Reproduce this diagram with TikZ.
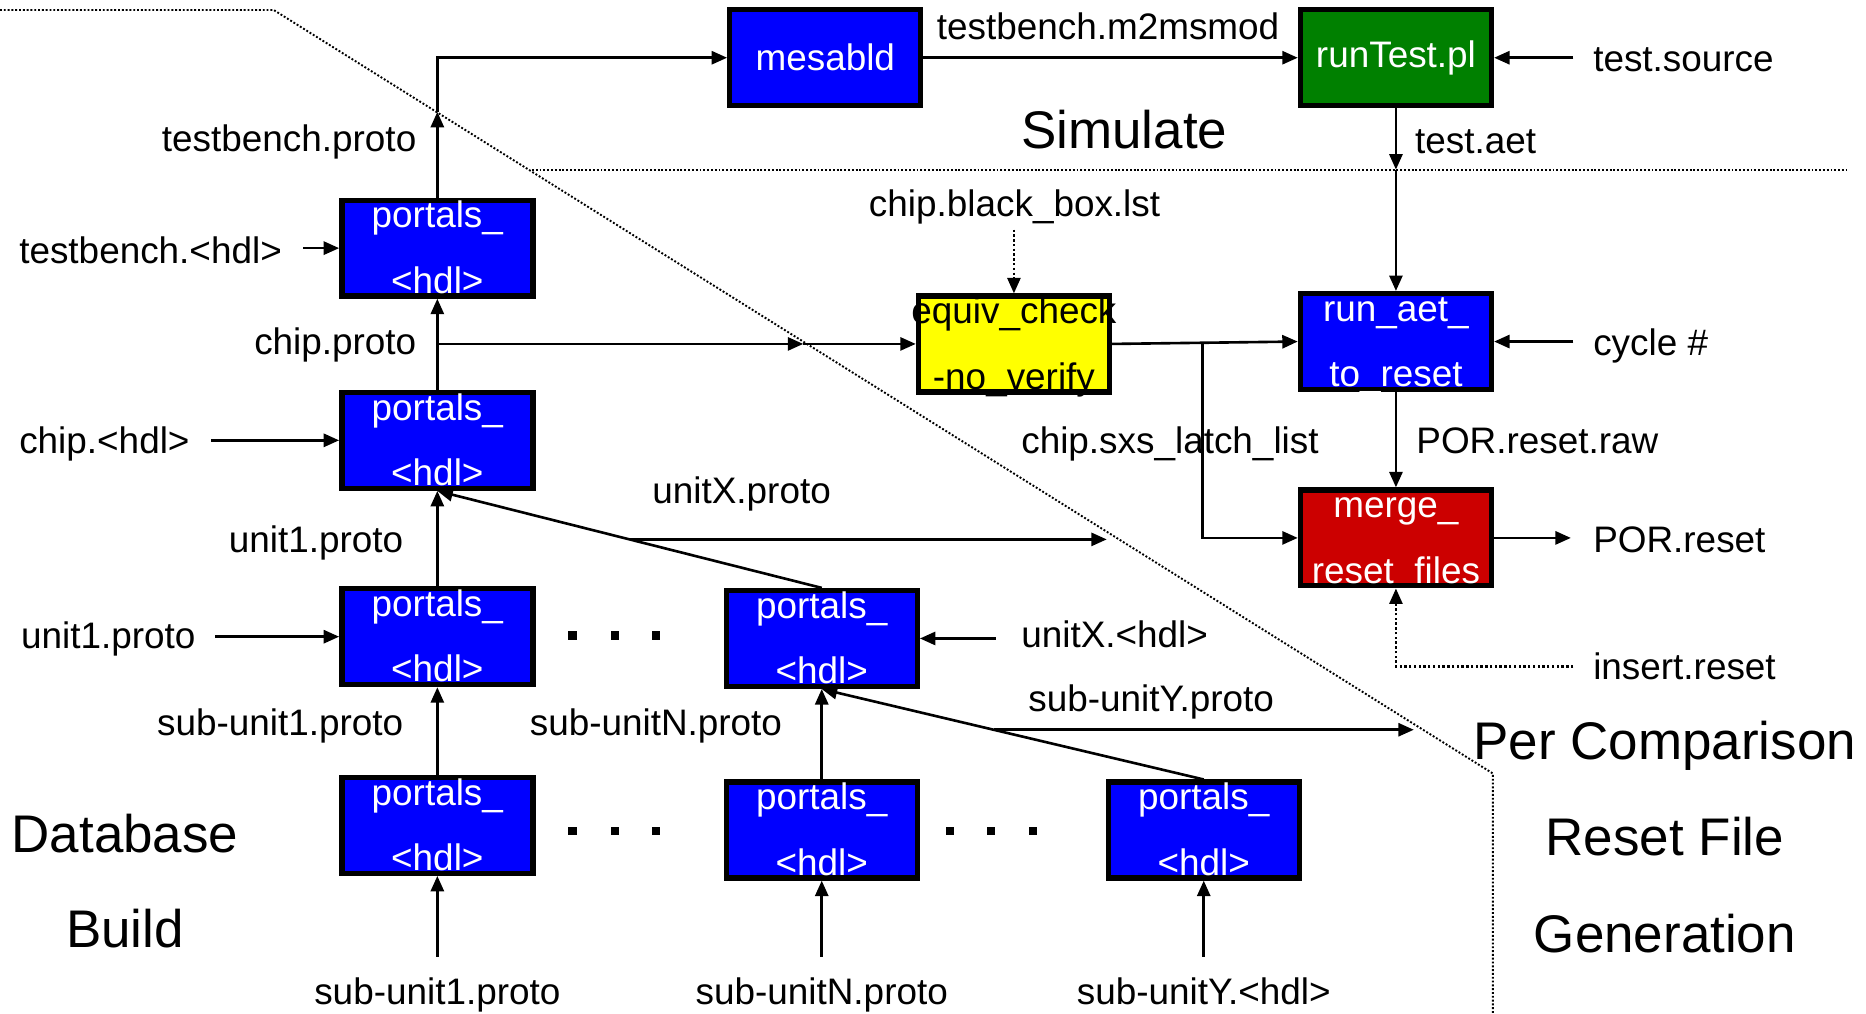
\documentclass[tikz,border=0pt]{standalone}
\usepackage{fontspec}
\setmainfont{Liberation Sans}
\usetikzlibrary{arrows.meta,calc}

\definecolor{boxblue}{RGB}{0,0,255}
\definecolor{boxgreen}{RGB}{0,128,0}
\definecolor{boxred}{RGB}{204,0,0}
\definecolor{boxyellow}{RGB}{255,255,0}

\tikzset{
  lbl/.style={inner sep=0pt, font=\fontsize{31}{37}\selectfont},
  biglbl/.style={inner sep=0pt, font=\fontsize{44.5}{53}\selectfont},
  pbox/.style={draw=black, line width=4.5pt, minimum width=160.5pt,
               minimum height=80.5pt, inner sep=0pt},
  boxtxt/.style={inner sep=0pt, font=\fontsize{31}{37}\selectfont},
  tip/.style={-{Triangle[length=13pt,width=11pt]}},
  conn/.style={line width=2.2pt, tip},
  wire/.style={line width=2.2pt},
  dotconn/.style={line width=2pt, dash pattern=on 2pt off 2pt, tip},
  zone/.style={line width=1.6pt, dash pattern=on 1.6pt off 1.6pt},
  dotsq/.style={fill=black, minimum width=7pt, minimum height=7pt, inner sep=0pt},
}

% a process box with two lines of text
\newcommand\twoline[7]{% name, x, y, fill, text colour, upper, lower
  \node[pbox, fill=#4] (#1) at (#2,#3) {};
  \node[boxtxt, text=#5, anchor=base] at ([yshift=17pt]#1.center) {#6};
  \node[boxtxt, text=#5, anchor=base] at ([yshift=-38pt]#1.center) {#7};
}

\begin{document}
\begin{tikzpicture}[x=1pt, y=-1pt]
  \fill[white] (0,0) rectangle (1568,852);
  \useasboundingbox (0,0) rectangle (1568,852);

  % region boundaries
  \draw[zone] (0,8.4) -- (230,8.4) -- (1254.5,650) -- (1254.5,852);
  \draw[zone] (447,142.5) -- (1552,142.5);

  % boxes
  \node[pbox, fill=boxblue, text=white, font=\fontsize{31}{37}\selectfont] (mes) at (693.5,48.5) {mesabld};
  \node[pbox, fill=boxgreen, text=white, font=\fontsize{31}{37}\selectfont] (rt) at (1173,48.5) {runTest.pl};
  \twoline{tb}{367.5}{208.5}{boxblue}{white}{portals\_}{<hdl>}
  \twoline{ch}{367.5}{370}{boxblue}{white}{portals\_}{<hdl>}
  \twoline{eq}{852}{289}{boxyellow}{black}{equiv\_check}{-no\_verify}
  \twoline{ra}{1173}{287}{boxblue}{white}{run\_aet\_}{to\_reset}
  \twoline{mg}{1173}{452}{boxred}{white}{merge\_}{reset\_files}
  \twoline{uo}{367.5}{535}{boxblue}{white}{portals\_}{<hdl>}
  \twoline{ux}{690.5}{536.5}{boxblue}{white}{portals\_}{<hdl>}
  \twoline{so}{367.5}{693.5}{boxblue}{white}{portals\_}{<hdl>}
  \twoline{sn}{690.5}{697.5}{boxblue}{white}{portals\_}{<hdl>}
  \twoline{sy}{1011.5}{697.5}{boxblue}{white}{portals\_}{<hdl>}

  % ellipses between the unit boxes
  \foreach \dx in {481,516.5,551.5} {
    \node[dotsq] at (\dx,534) {};
    \node[dotsq] at (\dx,698.5) {};
  }
  \foreach \dx in {798,833,868} \node[dotsq] at (\dx,698.5) {};

  % labels
  \node[lbl, anchor=base west] (l-m2) at (787,33.5) {testbench.m2msmod};
  \node[lbl, anchor=base west] (l-src) at (1338.6,60) {test.source};
  \node[biglbl, anchor=base west] (l-sim) at (858,125) {Simulate};
  \node[lbl, anchor=base west] (l-aet) at (1189,129) {test.aet};
  \node[lbl, anchor=base east] (l-tbp) at (350,127) {testbench.proto};
  \node[lbl, anchor=base west] (l-tbh) at (16,221) {testbench.<hdl>};
  \node[lbl, anchor=base east] (l-chp) at (350,298) {chip.proto};
  \node[lbl, anchor=base west] (l-chh) at (16,381) {chip.<hdl>};
  \node[lbl, anchor=base west] (l-bb) at (730,182) {chip.black\_box.lst};
  \node[lbl, anchor=base west] (l-cyc) at (1338.6,298.5) {cycle \#};
  \node[lbl, anchor=base west] (l-sxs) at (858,381) {chip.sxs\_latch\_list};
  \node[lbl, anchor=base west] (l-raw) at (1190,381) {POR.reset.raw};
  \node[lbl, anchor=base west] (l-por) at (1338.6,464) {POR.reset};
  \node[lbl, anchor=base west] (l-uxp) at (548,423) {unitX.proto};
  \node[lbl, anchor=base east] (l-u1a) at (339,464) {unit1.proto};
  \node[lbl, anchor=base west] (l-u1b) at (17.6,545) {unit1.proto};
  \node[lbl, anchor=base west] (l-uxh) at (858,544) {unitX.<hdl>};
  \node[lbl, anchor=base west] (l-ins) at (1338.6,571) {insert.reset};
  \node[lbl, anchor=base west] (l-syp) at (864,598) {sub-unitY.proto};
  \node[lbl, anchor=base east] (l-s1a) at (339,618) {sub-unit1.proto};
  \node[lbl, anchor=base west] (l-sna) at (445,618) {sub-unitN.proto};
  \node[biglbl, anchor=base] (l-per) at (1399,638) {Per Comparison};
  \node[biglbl, anchor=base] (l-rf) at (1399,719) {Reset File};
  \node[biglbl, anchor=base] (l-gen) at (1399,800) {Generation};
  \node[biglbl, anchor=base] (l-db) at (105,716) {Database};
  \node[biglbl, anchor=base] (l-bld) at (105,796) {Build};
  \node[lbl, anchor=base] (l-s1b) at (367.5,844) {sub-unit1.proto};
  \node[lbl, anchor=base] (l-snb) at (690.5,844) {sub-unitN.proto};
  \node[lbl, anchor=base] (l-syh) at (1011.5,844) {sub-unitY.<hdl>};

  % free ends of connectors
  \coordinate (tbx) at (367.5,94);
  \coordinate (cpo) at (367.5,289);
  \coordinate (cpx) at (675,289);
  \coordinate (rtx) at (1173,142.5);
  \coordinate (brx) at (1010.6,288);
  \coordinate (srcin) at (1322,48.5);
  \coordinate (cycin) at (1322,287);
  \coordinate (porout) at (1320,452);
  \coordinate (insin) at (1322,560);
  \coordinate (bbin) at (852,193);
  \coordinate (tbhin) at (255,208.5);
  \coordinate (chhin) at (177.5,370);
  \coordinate (u1in) at (181,535);
  \coordinate (uxin) at (836.6,536.5);
  \coordinate (uxend) at (930,452);
  \coordinate (syend) at (1188,613);
  \coordinate (s1in) at (367.5,804);
  \coordinate (snin) at (690.5,804);
  \coordinate (syin) at (1011.5,804);
  \coordinate (uxmid) at ($(ux.north)!0.5!(ch.south)$);
  \coordinate (symid) at ($(sy.north)!0.55!(ux.south)$);

  % simulate flow
  \draw[conn] (tb.north) -- (tbx);
  \draw[conn] (tbx) -- (tbx |- mes.west) -- (mes.west);
  \draw[conn] (mes.east) -- (rt.west);
  \draw[conn] (srcin) -- (rt.east);
  \draw[conn] (rt.south) -- (rtx);
  \draw[conn] (rtx) -- (ra.north);

  % reset file generation
  \draw[conn] (ch.north) -- (tb.south);
  \draw[conn] (cpo) -- (cpx);
  \draw[conn] (cpx) -- (eq.west);
  \draw[dotconn] (bbin) -- (eq.north);
  \draw[conn] (eq.east) -- (ra.west);
  \draw[conn] (brx) |- (mg.west);
  \draw[conn] (cycin) -- (ra.east);
  \draw[conn] (ra.south) -- (mg.north);
  \draw[conn] (mg.east) -- (porout);
  \draw[dotconn] (insin) -| (mg.south);

  % database build
  \draw[conn] (tbhin) -- (tb.west);
  \draw[conn] (chhin) -- (ch.west);
  \draw[conn] (uo.north) -- (ch.south);
  \draw[conn] (ux.north) -- (ch.south);
  \draw[conn] (uxmid) -- (uxmid -| uxend);
  \draw[conn] (u1in) -- (uo.west);
  \draw[conn] (uxin) -- (ux.east);
  \draw[conn] (so.north) -- (uo.south);
  \draw[conn] (sn.north) -- (ux.south);
  \draw[conn] (sy.north) -- (ux.south);
  \draw[conn] (symid) -- (symid -| syend);
  \draw[conn] (s1in) -- (so.south);
  \draw[conn] (snin) -- (sn.south);
  \draw[conn] (syin) -- (sy.south);
\end{tikzpicture}
\end{document}
